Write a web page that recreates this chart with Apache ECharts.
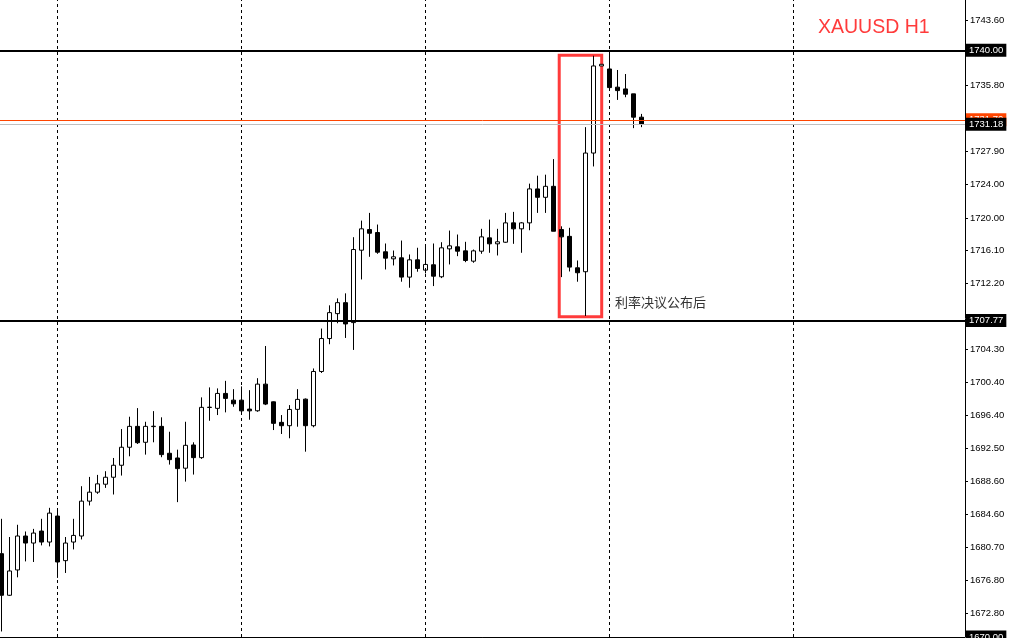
<!DOCTYPE html>
<html>
<head>
<meta charset="utf-8">
<script src="https://cdn.jsdelivr.net/npm/echarts@6/dist/echarts.min.js"></script>
<style>
html,body{margin:0;padding:0;background:#fff;}
#chart{width:1012px;height:638px;}
</style>
</head>
<body>
<div id="chart"></div>
<script>
// Hourly candles: open, close, low, high (index = bar number)
var opens = [1679.94,1674.98,1678.00,1682.05,1681.21,1682.64,1681.33,1684.43,1679.11,1681.33,
1682.05,1686.21,1687.28,1688.23,1689.06,1690.49,1692.64,1695.13,1693.23,1695.10,
1695.13,1691.92,1691.36,1690.14,1692.91,1691.40,1697.38,1697.28,1699.06,1698.26,
1698.26,1697.19,1696.99,1700.17,1698.06,1695.61,1695.21,1697.16,1698.38,1695.21,
1701.68,1705.61,1708.58,1709.89,1707.51,1716.15,1718.61,1718.26,1715.96,1715.12,
1715.24,1712.94,1715.00,1713.77,1714.41,1712.98,1716.31,1716.55,1716.07,1714.84,
1716.03,1717.62,1716.91,1717.10,1719.41,1718.70,1719.41,1723.46,1722.46,1723.77,
1718.61,1717.80,1714.05,1713.58,1727.74,1738.13,1737.77,1735.60,1735.39,1734.80,1732.02];
var closes = [1674.98,1677.88,1682.05,1681.21,1682.40,1681.33,1684.78,1678.95,1681.21,1682.12,
1686.21,1687.28,1688.27,1689.06,1690.49,1692.64,1695.13,1693.18,1695.13,1695.15,
1691.76,1691.16,1690.09,1692.87,1691.40,1697.40,1697.42,1699.06,1698.47,1697.82,
1696.98,1696.98,1700.17,1697.79,1695.49,1695.21,1697.15,1698.35,1695.21,1701.68,
1705.61,1708.70,1709.89,1707.35,1716.23,1718.70,1718.17,1715.91,1715.20,1715.36,
1712.94,1715.00,1713.97,1714.45,1713.05,1716.43,1716.67,1716.03,1714.92,1716.07,
1717.74,1716.91,1717.15,1719.41,1718.70,1719.41,1723.46,1722.46,1723.77,1718.41,
1717.74,1714.13,1713.46,1727.74,1738.13,1738.33,1735.55,1735.19,1734.76,1732.02,1731.18];
var lows = [1670.66,1674.90,1677.12,1679.02,1678.95,1680.93,1680.81,1677.05,1677.64,1680.45,
1681.64,1685.69,1687.08,1687.79,1687.00,1689.26,1691.56,1693.03,1691.76,1693.23,
1691.45,1690.57,1686.09,1688.54,1689.38,1691.25,1695.80,1696.48,1696.80,1697.47,
1696.70,1695.92,1696.87,1697.67,1694.69,1694.22,1693.71,1695.09,1692.11,1695.02,
1701.50,1704.93,1707.43,1705.68,1704.25,1712.66,1715.36,1715.72,1713.85,1714.33,
1712.39,1711.67,1713.58,1713.38,1711.87,1712.82,1714.45,1715.44,1714.72,1714.65,
1715.72,1715.84,1715.52,1717.03,1716.91,1715.84,1718.53,1720.60,1720.60,1718.41,
1712.94,1713.61,1712.39,1708.30,1726.14,1738.13,1735.55,1734.08,1734.40,1730.71,1730.83];
var highs = [1684.10,1681.93,1683.39,1682.59,1682.90,1684.10,1685.41,1685.09,1681.93,1684.10,
1687.99,1689.10,1689.34,1689.78,1691.36,1694.81,1696.28,1697.31,1695.68,1696.95,
1696.21,1694.49,1692.35,1695.68,1693.23,1698.59,1699.78,1699.66,1700.56,1699.57,
1699.90,1699.45,1700.88,1704.72,1698.10,1696.48,1697.67,1699.57,1698.46,1702.04,
1706.80,1709.57,1710.40,1711.00,1717.70,1719.68,1720.60,1719.21,1716.95,1716.11,
1717.30,1715.64,1716.44,1716.62,1716.95,1717.10,1718.49,1718.02,1717.15,1716.23,
1718.70,1719.80,1718.70,1720.60,1720.72,1719.50,1724.09,1725.04,1725.16,1727.02,
1719.00,1718.82,1714.92,1730.83,1739.35,1738.33,1739.44,1737.65,1737.17,1734.80,1732.41];

// Price axis tick labels
var tickValues = [1743.60,1735.80,1727.90,1724.00,1720.00,1716.10,1712.20,1704.30,1700.40,
1696.40,1692.50,1688.60,1684.60,1680.70,1676.80,1672.80];
// Horizontal levels
var levelLines = [1740.00, 1707.77];
var askPrice = 1731.70;
var bidPrice = 1731.18;
var axisBottomPrice = 1670.00;
// Vertical period separators (bar indices)
var separators = [7, 30, 53, 76, 99];
// Highlight box: [fromBar, topPrice, toBar, bottomPrice]
var box = [69.69, 1739.40, 75.0, 1708.20];
var title = 'XAUUSD H1';
var note = '利率决议公布后';

var candles = opens.map(function (o, i) { return [i, o, closes[i], lows[i], highs[i]]; });

var boxLabel = function (color) {
  return {
    show: true, position: 'end', distance: 1,
    formatter: function (p) { return p.value.toFixed(2); },
    color: '#fff', backgroundColor: color, padding: [2, 3, 1, 3],
    fontSize: 9.5, fontFamily: 'Liberation Sans'
  };
};

var chart = echarts.init(document.getElementById('chart'));
chart.setOption({
  animation: false,
  backgroundColor: '#fff',
  title: {
    text: title, left: 818, top: 18, padding: 0,
    textStyle: { color: '#ff3b3b', fontSize: 19.5, fontWeight: 'normal', fontFamily: 'Liberation Sans' }
  },
  grid: { left: 0, right: 47, top: 0, bottom: 1 },
  xAxis: {
    type: 'value', min: -0.2125, max: 120.4125,
    axisLine: { show: true, onZero: false, lineStyle: { color: '#000', width: 1 } },
    axisTick: { show: false }, axisLabel: { show: false }, splitLine: { show: false }
  },
  yAxis: {
    type: 'value', position: 'right', min: 1670.0, max: 1746.0, scale: true,
    axisLine: { show: true, onZero: false, lineStyle: { color: '#000', width: 1 } },
    axisTick: { show: true, length: 3, customValues: tickValues, lineStyle: { color: '#000' } },
    axisLabel: {
      customValues: tickValues, margin: 5, color: '#000', fontSize: 9.5, fontFamily: 'Liberation Sans',
      formatter: function (v) { return v.toFixed(2); }
    },
    splitLine: { show: false }
  },
  graphic: [{
    type: 'text', left: 615, top: 296,
    style: { text: note, fill: '#333', fontSize: 13, fontFamily: 'Noto Sans CJK SC' }
  }],
  series: [
    {
      type: 'line', data: [], z: 1, silent: true,
      markLine: {
        silent: true, symbol: 'none', label: { show: false },
        lineStyle: { color: '#000', width: 1, type: [3, 3] },
        data: separators.map(function (s) { return { xAxis: s }; })
      }
    },
    {
      type: 'candlestick', z: 2,
      dimensions: ['idx', 'open', 'close', 'lowest', 'highest'],
      encode: { x: 'idx', y: ['open', 'close', 'lowest', 'highest'] },
      data: candles, barWidth: 5,
      itemStyle: {
        color: '#fff', color0: '#000', borderColor: '#000', borderColor0: '#000',
        borderColorDoji: '#000', borderWidth: 1
      },
      markArea: {
        silent: true,
        itemStyle: { color: 'rgba(0,0,0,0)', borderColor: '#ff3b3b', borderWidth: 3 },
        label: { show: false },
        data: [[{ xAxis: box[0], yAxis: box[1] }, { xAxis: box[2], yAxis: box[3] }]]
      },
      markLine: {
        silent: true, symbol: 'none',
        data: [
          { yAxis: askPrice, lineStyle: { color: '#ff4500', width: 1, type: 'solid' }, label: boxLabel('#ff4500') },
          { yAxis: bidPrice, lineStyle: { color: '#c0c0c0', width: 1, type: 'solid' }, label: boxLabel('#000') },
          { yAxis: levelLines[0], lineStyle: { color: '#000', width: 2, type: 'solid' }, label: boxLabel('#000') },
          { yAxis: levelLines[1], lineStyle: { color: '#000', width: 2, type: 'solid' }, label: boxLabel('#000') },
          { yAxis: axisBottomPrice, lineStyle: { color: '#000', width: 1, type: 'solid' }, label: boxLabel('#000') }
        ]
      }
    }
  ]
});
</script>
</body>
</html>
